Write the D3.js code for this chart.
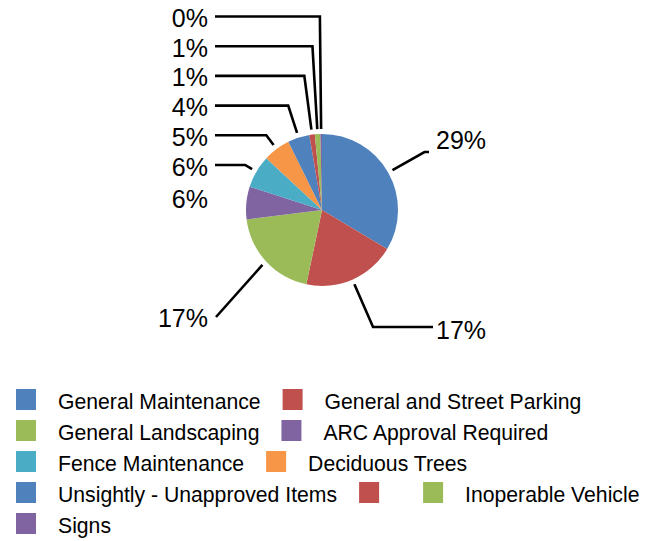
<!DOCTYPE html>
<html>
<head>
<meta charset="utf-8">
<script src="https://cdn.jsdelivr.net/npm/d3@7"></script>
<style>
  html, body { margin: 0; padding: 0; background: #fff; }
  svg { display: block; font-family: "Liberation Sans", Arial, sans-serif; }
</style>
</head>
<body>
<div id="chart"></div>
<script>
// ---- data ----
const categories = [
  "General Maintenance", "General and Street Parking", "General Landscaping",
  "ARC Approval Required", "Fence Maintenance", "Deciduous Trees",
  "Unsightly - Unapproved Items", "", "Inoperable Vehicle", "Signs"
];
const values = [29, 17, 17, 6, 6, 5, 4, 1, 1, 0.3];
const colors = ["#4F81BD", "#C0504D", "#9BBB59", "#8064A2", "#4BACC6",
                "#F79646", "#4F81BD", "#C0504D", "#9BBB59", "#8064A2"];

// legend rows (item indices per row)
const legendRows = [[0, 1], [2, 3], [4, 5], [6, 7, 8], [9]];

const W = 662, H = 541;
const cx = 322, cy = 210, r = 76;

const svg = d3.select("#chart").append("svg")
  .attr("width", W)
  .attr("height", H);

const pct = v => Math.round(v) + "%";

// ---- pie ----
const pie = d3.pie().sort(null).value(d => d)(values);
const arc = d3.arc().innerRadius(0).outerRadius(r);

const g = svg.append("g").attr("transform", `translate(${cx},${cy})`);

g.selectAll("path.slice")
  .data(pie)
  .enter().append("path")
  .attr("class", "slice")
  .attr("d", arc)
  .attr("fill", (d, i) => colors[i]);

// ---- data labels ----
// label layout (absolute px): text x, baseline, anchor, leader end
const colTextX = 208, colLineX = 215, colTop = 27, colStep = 29.7;
const columnOrder = [9, 8, 7, 6, 5, 4]; // stacked labels top-left
const labelLayout = {
  0: { x: 436, y: 149, anchor: "start", lx: 429, ly: 152 },
  1: { x: 436, y: 339, anchor: "start", lx: 433, ly: 327 },
  2: { x: 208, y: 327, anchor: "end", lx: 216, ly: 317 },
  3: { x: 208, y: 208, anchor: "end", lx: null, ly: null }
};
columnOrder.forEach((idx, row) => {
  const base = colTop + row * colStep;
  labelLayout[idx] = { x: colTextX, y: base, anchor: "end", lx: colLineX, ly: base - 10.5 };
});

const labels = svg.append("g").attr("class", "labels");

pie.forEach((d, i) => {
  const L = labelLayout[i];
  const mid = (d.startAngle + d.endAngle) / 2;
  const ux = Math.sin(mid), uy = -Math.cos(mid);
  if (L.lx != null) {
    const sx = cx + ux * (r + 5), sy = cy + uy * (r + 5);
    // walk along the radial direction until reaching the leader's y
    let ex = Math.abs(uy) > 1e-6 ? sx + ux * (L.ly - sy) / uy : sx;
    if (L.lx > sx) ex = Math.min(ex, L.lx); else ex = Math.max(ex, L.lx);
    labels.append("polyline")
      .attr("points", [[sx, sy], [ex, L.ly], [L.lx, L.ly]].map(p => p.join(",")).join(" "))
      .attr("fill", "none")
      .attr("stroke", "#000")
      .attr("stroke-width", 2.6);
  }
  labels.append("text")
    .attr("x", L.x)
    .attr("y", L.y)
    .attr("text-anchor", L.anchor)
    .attr("font-size", 25)
    .attr("fill", "#000")
    .text(pct(values[i]));
});

// ---- legend ----
const legend = svg.append("g").attr("class", "legend");
const rowBase = 409, rowStep = 31;

legendRows.forEach((row, ri) => {
  let x = 16;
  const base = rowBase + ri * rowStep;
  row.forEach(idx => {
    legend.append("rect")
      .attr("x", x)
      .attr("y", base - 20)
      .attr("width", 20)
      .attr("height", 21)
      .attr("fill", colors[idx]);
    const t = legend.append("text")
      .attr("x", x + 42)
      .attr("y", base)
      .attr("font-size", 21.2)
      .attr("fill", "#000")
      .text(categories[idx]);
    const w = categories[idx] ? t.node().getComputedTextLength() : 0;
    x += 42 + w + 22;
  });
});
</script>
</body>
</html>
